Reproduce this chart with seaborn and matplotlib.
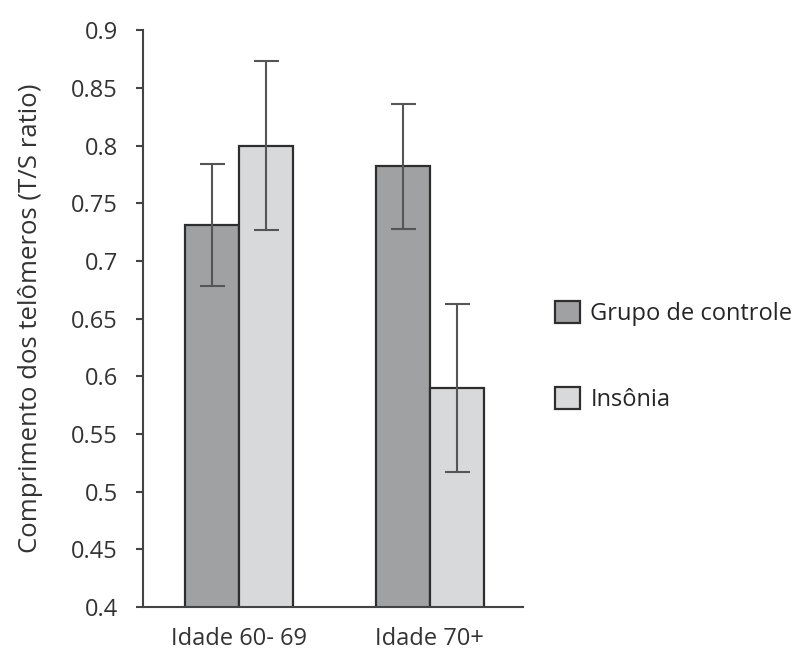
import matplotlib
matplotlib.use("Agg")
import matplotlib.pyplot as plt
import pandas as pd
import seaborn as sns

# values
groups = ["Idade 60- 69", "Idade 70+"]
series = ["Grupo de controle", "Insônia"]
controle = [0.731, 0.782]
insonia = [0.800, 0.590]
controle_err = [0.053, 0.054]
insonia_err = [0.073, 0.073]

yticks = [0.4, 0.45, 0.5, 0.55, 0.6, 0.65, 0.7, 0.75, 0.8, 0.85, 0.9]
ytick_labels = ["0.4", "0.45", "0.5", "0.55", "0.6", "0.65", "0.7", "0.75", "0.8", "0.85", "0.9"]

sns.set_theme(style="white")
plt.rcParams['font.family'] = ['Open Sans', 'DejaVu Sans']

df = pd.DataFrame({
    'Idade': groups * 2,
    'Grupo': [series[0]] * 2 + [series[1]] * 2,
    'Valor': controle + insonia,
    'Erro': controle_err + insonia_err,
})

fig = plt.figure(figsize=(8.02, 6.55), dpi=100)
ax = fig.add_axes([0.178, 0.073, 0.474, 0.881])

sns.barplot(data=df, x='Idade', y='Valor', hue='Grupo', hue_order=series,
            palette=["#a0a1a3", "#d8d9db"], width=0.566, gap=0,
            edgecolor="#2e2e2e", linewidth=1.6, errorbar=None, ax=ax)

# error bars on the centres of the bars seaborn drew
for container, name in zip(ax.containers, series):
    sub = df[df['Grupo'] == name].set_index('Idade').loc[groups]
    xs = [p.get_x() + p.get_width() / 2 for p in container.patches]
    ax.errorbar(xs, sub['Valor'], yerr=sub['Erro'], fmt='none',
                ecolor="#555555", elinewidth=1.5, capsize=9, capthick=1.5)

ax.set_ylim(0.4, 0.9)
ax.set_xlim(-0.503, 1.487)
ax.set_yticks(yticks)
ax.set_yticklabels(ytick_labels)
ax.set_xlabel('')
ax.set_ylabel('Comprimento dos telômeros (T/S ratio)', fontsize=18.5, color="#333333", labelpad=20)

sns.despine(ax=ax)
for side in ['left', 'bottom']:
    ax.spines[side].set_color("#444444")
    ax.spines[side].set_linewidth(1.5)
ax.tick_params(axis='y', direction='out', length=5, width=1.5, color="#444444",
               labelsize=17, labelcolor="#333333", pad=13, left=True)
ax.tick_params(axis='x', length=0, labelsize=17, labelcolor="#333333", pad=14)

ax.legend(title=None, frameon=False, fontsize=17, loc='center left',
          bbox_to_anchor=(0.692, 0.456), bbox_transform=fig.transFigure,
          borderaxespad=0, borderpad=0, labelspacing=2.6,
          handlelength=1.05, handleheight=1.05, handletextpad=0.45)

plt.savefig('out.png', dpi=100)
plt.close()
